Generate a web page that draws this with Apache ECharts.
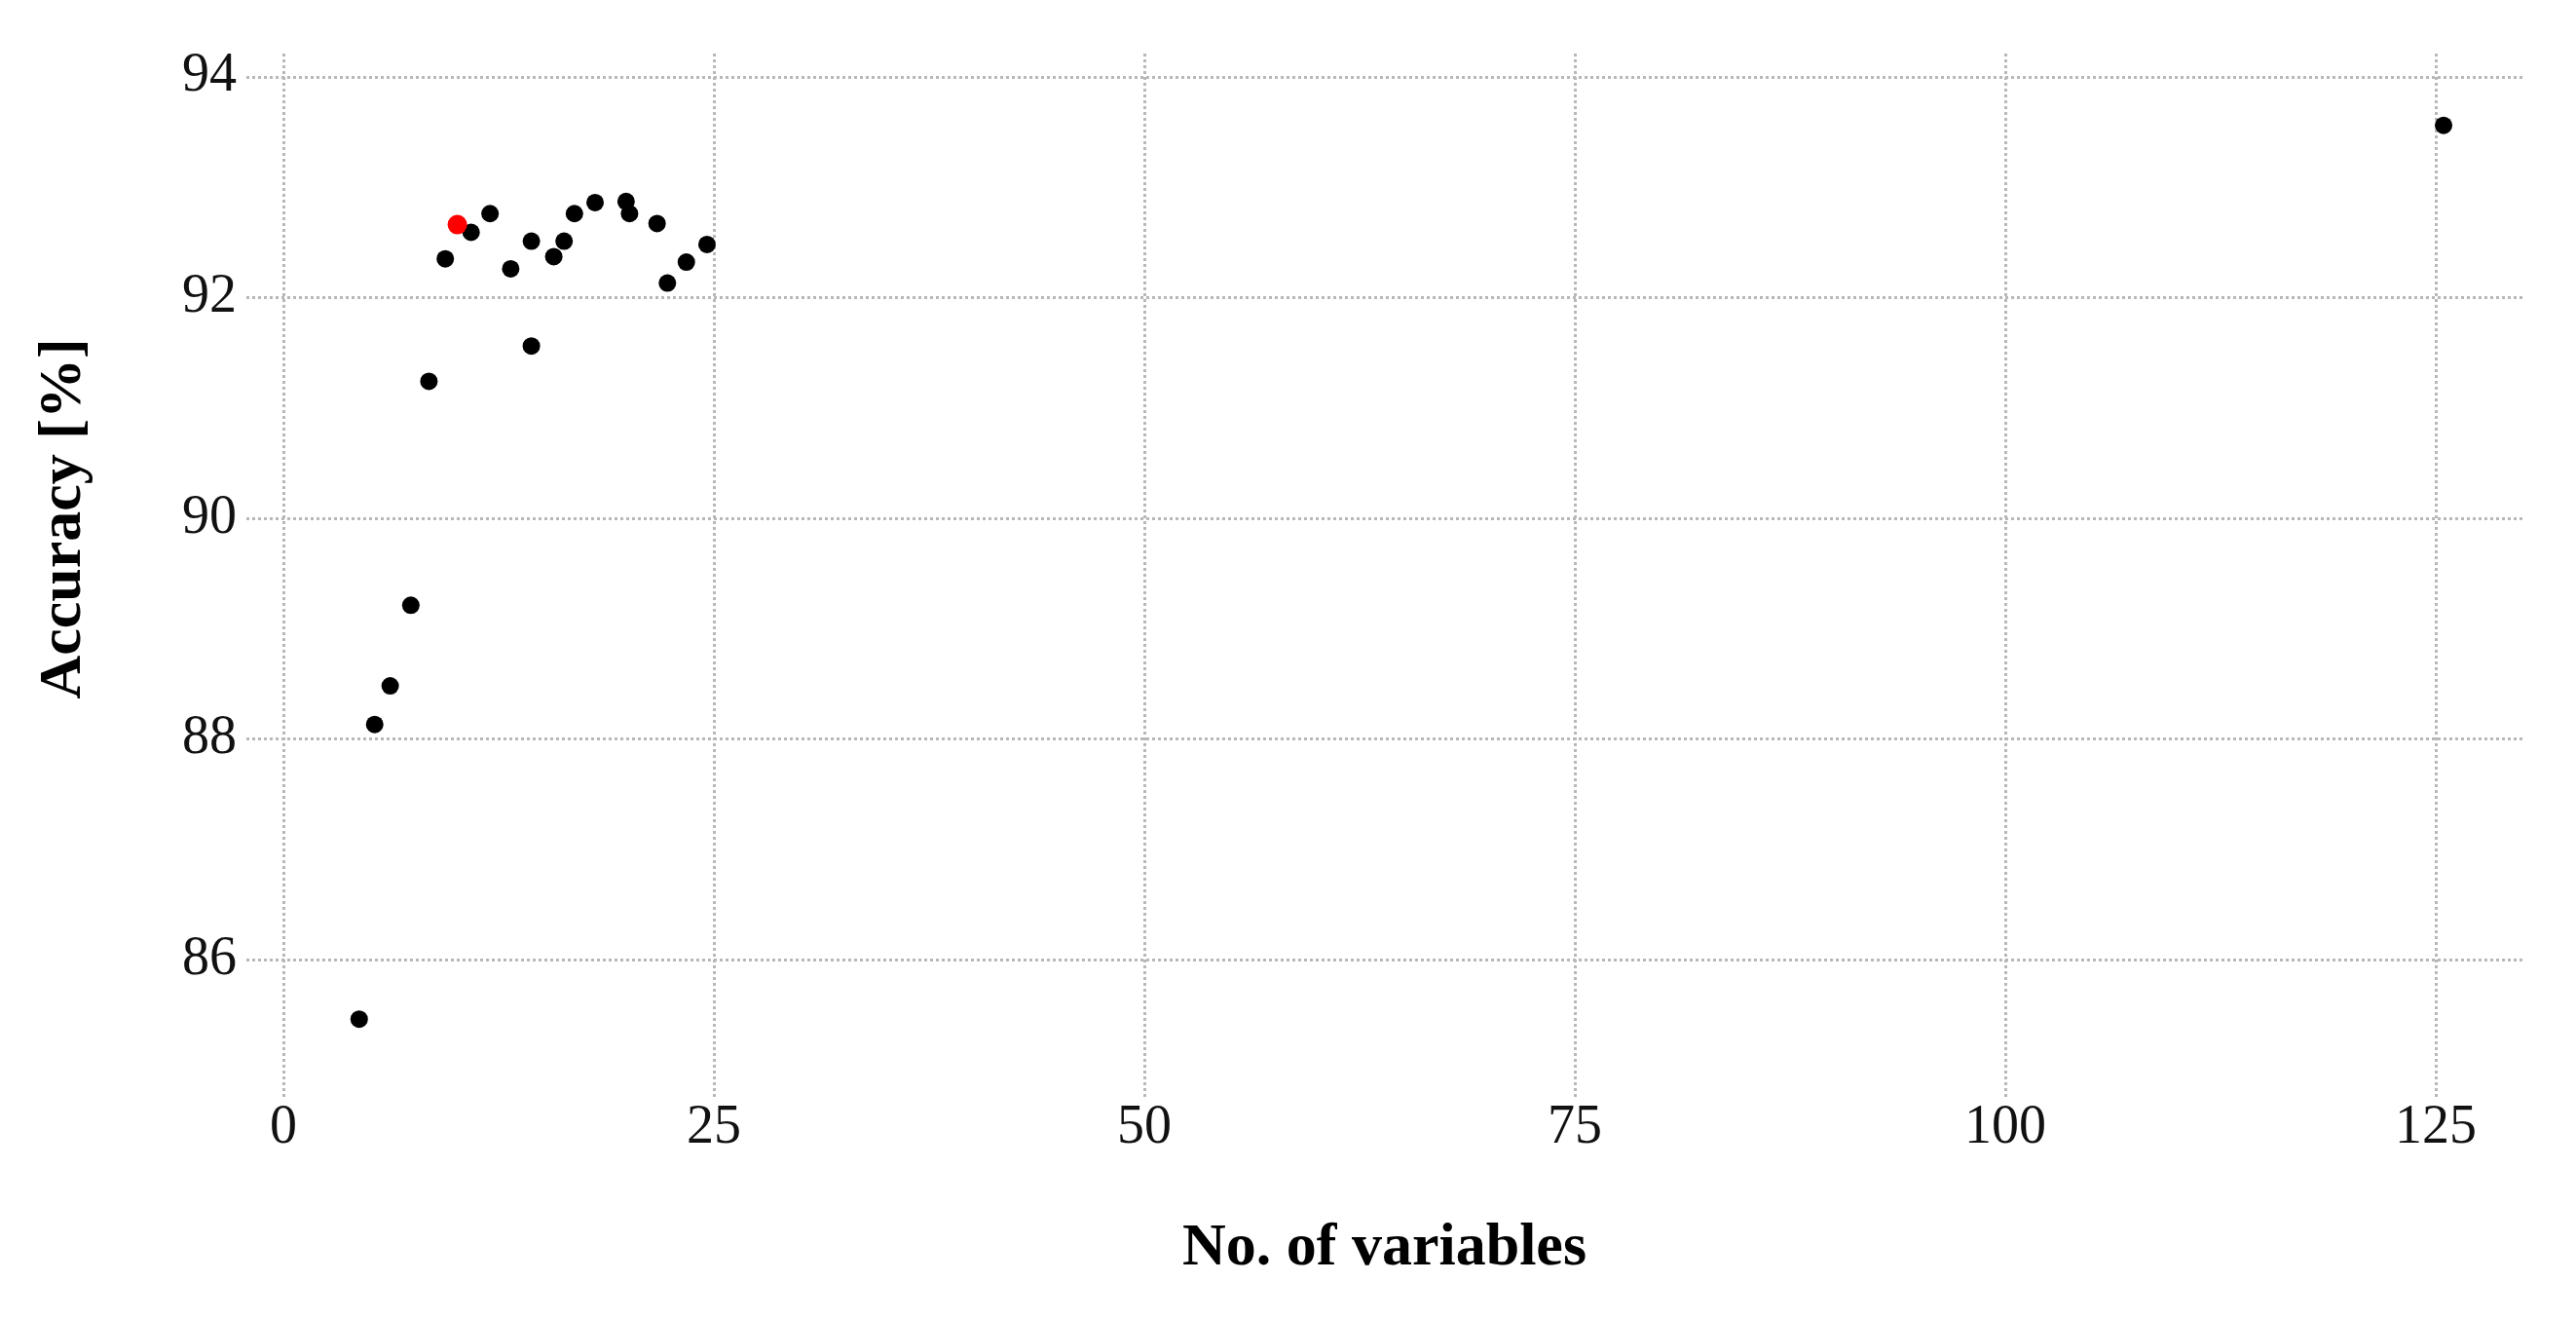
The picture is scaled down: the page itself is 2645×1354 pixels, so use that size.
<!DOCTYPE html>
<html>
<head>
<meta charset="utf-8">
<title>Accuracy vs number of variables</title>
<script src="https://cdn.jsdelivr.net/npm/echarts@6/dist/echarts.min.js"></script>
<style>
  html, body { margin: 0; padding: 0; background: #fff; }
  #chart { width: 2645px; height: 1354px; }
</style>
</head>
<body>
<div id="chart"></div>
<script>
// x: number of variables, y: accuracy [%]
const numVars = [4.4, 5.3, 6.2, 7.4, 8.45, 9.4, 10.9, 12.0, 13.2, 14.4, 14.4, 15.7, 16.3, 16.9, 18.1, 19.9, 20.1, 21.7, 22.3, 23.4, 24.6, 125.45]
const accuracy = [85.46, 88.13, 88.48, 89.21, 91.24, 92.35, 92.59, 92.76, 92.26, 92.51, 91.56, 92.37, 92.51, 92.76, 92.86, 92.87, 92.76, 92.67, 92.13, 92.32, 92.48, 93.56]

// selected model (red point)
const bestVars = [10.1]
const bestAccuracy = [92.66]

const xTicks = [0, 25, 50, 75, 100, 125]
const yTicks = [86, 88, 90, 92, 94]

const fontFamily = '"Liberation Serif", "DejaVu Serif", serif'
const gridLine = { color: '#b8b8b8', width: 3, type: [3, 3] }

const chart = echarts.init(document.getElementById('chart'))

chart.setOption({
  backgroundColor: '#fff',
  animation: false,
  grid: { left: 253, right: 55, top: 55, bottom: 228, containLabel: false },
  xAxis: {
    type: 'value',
    min: -2.15,
    max: 130.03,
    name: 'No. of variables',
    nameLocation: 'middle',
    nameGap: 125,
    nameTextStyle: { fontFamily, fontSize: 62, fontWeight: 'bold', color: '#000' },
    axisLine: { show: false },
    axisTick: { show: false, customValues: xTicks },
    axisLabel: { customValues: xTicks, fontFamily, fontSize: 56, color: '#111', margin: 4 },
    splitLine: { show: true, lineStyle: gridLine }
  },
  yAxis: {
    type: 'value',
    min: 84.755,
    max: 94.21,
    name: 'Accuracy [%]',
    nameLocation: 'middle',
    nameGap: 156,
    nameRotate: 90,
    nameTextStyle: { fontFamily, fontSize: 62, fontWeight: 'bold', color: '#000', padding: [0, 0, 0, 116] },
    axisLine: { show: false },
    axisTick: { show: false, customValues: yTicks },
    axisLabel: { customValues: yTicks, fontFamily, fontSize: 56, color: '#111', margin: 10 },
    splitLine: { show: true, lineStyle: gridLine }
  },
  series: [
    {
      name: 'models',
      type: 'scatter',
      symbolSize: 18,
      itemStyle: { color: '#000', opacity: 1 },
      data: numVars.map((x, i) => [x, accuracy[i]])
    },
    {
      name: 'best',
      type: 'scatter',
      symbolSize: 20,
      itemStyle: { color: '#ff0000', opacity: 1 },
      data: bestVars.map((x, i) => [x, bestAccuracy[i]])
    }
  ]
})
</script>
</body>
</html>
